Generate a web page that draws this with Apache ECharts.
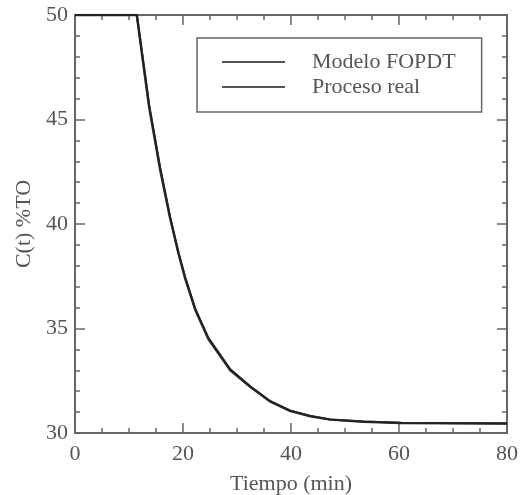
<!DOCTYPE html>
<html>
<head>
<meta charset="utf-8">
<script src="https://cdn.jsdelivr.net/npm/echarts@6/dist/echarts.min.js"></script>
<style>
  html, body { margin: 0; padding: 0; background: #fff; }
  #chart { width: 524px; height: 495px; }
</style>
</head>
<body>
<div id="chart"></div>
<script>
// ---- DATA ----
const tiempo = [0, 11.45, 12.68, 13.73, 15.77, 17.6, 19.17, 20.4, 22.26, 24.7, 28.76, 32.5, 36.2, 39.9, 43.6, 47.3, 53.4, 60.3, 80];
const modeloFOPDT = [50, 50, 47.6, 45.6, 42.6, 40.3, 38.6, 37.4, 35.9, 34.5, 33.0, 32.2, 31.5, 31.05, 30.8, 30.64, 30.54, 30.48, 30.45];
const procesoReal = [50, 50, 47.7, 45.7, 42.7, 40.35, 38.6, 37.45, 35.95, 34.55, 33.05, 32.22, 31.52, 31.07, 30.81, 30.65, 30.55, 30.49, 30.46];
const seriesNames = ['Modelo FOPDT', 'Proceso real'];

const FONT = 'Liberation Serif';
const FONT_SIZE = 22;
const AXIS_COLOR = '#666';
const TEXT_COLOR = '#555';

const pairs = (xs, ys) => xs.map((x, i) => [x, ys[i]]);

// ---- AXES ----
function xAxisBase(pos, labels) {
  return {
    type: 'value', position: pos, min: 0, max: 80, interval: 20,
    axisLine: { onZero: false, lineStyle: { color: AXIS_COLOR, width: 2 } },
    axisTick: { inside: true, length: 10, lineStyle: { color: AXIS_COLOR, width: 1.5 } },
    minorTick: { show: true, splitNumber: 4, length: 5, lineStyle: { color: AXIS_COLOR, width: 1.5 } },
    axisLabel: { show: labels, margin: 10, color: TEXT_COLOR, fontFamily: FONT, fontSize: FONT_SIZE },
    splitLine: { show: false },
  };
}
function yAxisBase(pos, labels) {
  return {
    type: 'value', position: pos, min: 30, max: 50, interval: 5,
    axisLine: { onZero: false, lineStyle: { color: AXIS_COLOR, width: 2 } },
    axisTick: { inside: true, length: 10, lineStyle: { color: AXIS_COLOR, width: 1.5 } },
    minorTick: { show: true, splitNumber: 5, length: 5, lineStyle: { color: AXIS_COLOR, width: 1.5 } },
    axisLabel: { show: labels, margin: 7, color: TEXT_COLOR, fontFamily: FONT, fontSize: FONT_SIZE },
    splitLine: { show: false },
  };
}

const chart = echarts.init(document.getElementById('chart'), null, { renderer: 'canvas' });
chart.setOption({
  backgroundColor: '#fff',
  animation: false,
  grid: { left: 75, right: 17, top: 15, bottom: 62, outerBoundsMode: 'none' },
  legend: {
    data: seriesNames,
    orient: 'vertical',
    left: 197, top: 38,
    padding: [13, 26, 14, 25],
    itemWidth: 63, itemHeight: 14, itemGap: 3,
    borderColor: AXIS_COLOR, borderWidth: 1.5,
    icon: 'path://M0,6 L63,6 L63,8 L0,8 Z',
    textStyle: { fontFamily: FONT, fontSize: FONT_SIZE, lineHeight: 22, color: TEXT_COLOR, padding: [0, 0, 0, 22] },
  },
  xAxis: [
    Object.assign(xAxisBase('bottom', true), {
      name: 'Tiempo (min)', nameLocation: 'middle', nameGap: 40,
      nameTextStyle: { fontFamily: FONT, fontSize: FONT_SIZE, color: TEXT_COLOR },
    }),
    xAxisBase('top', false),
  ],
  yAxis: [
    Object.assign(yAxisBase('left', true), {
      name: 'C(t) %TO', nameLocation: 'middle', nameGap: 40,
      nameTextStyle: { fontFamily: FONT, fontSize: FONT_SIZE, color: TEXT_COLOR },
    }),
    yAxisBase('right', false),
  ],
  series: [
    {
      name: seriesNames[0], type: 'line', data: pairs(tiempo, modeloFOPDT),
      showSymbol: false,
      lineStyle: { color: '#333', width: 2.5, join: 'round' }, itemStyle: { color: '#555' },
    },
    {
      name: seriesNames[1], type: 'line', data: pairs(tiempo, procesoReal),
      showSymbol: false,
      lineStyle: { color: '#222', width: 2, join: 'round' }, itemStyle: { color: '#555' },
    },
  ],
});
</script>
</body>
</html>
